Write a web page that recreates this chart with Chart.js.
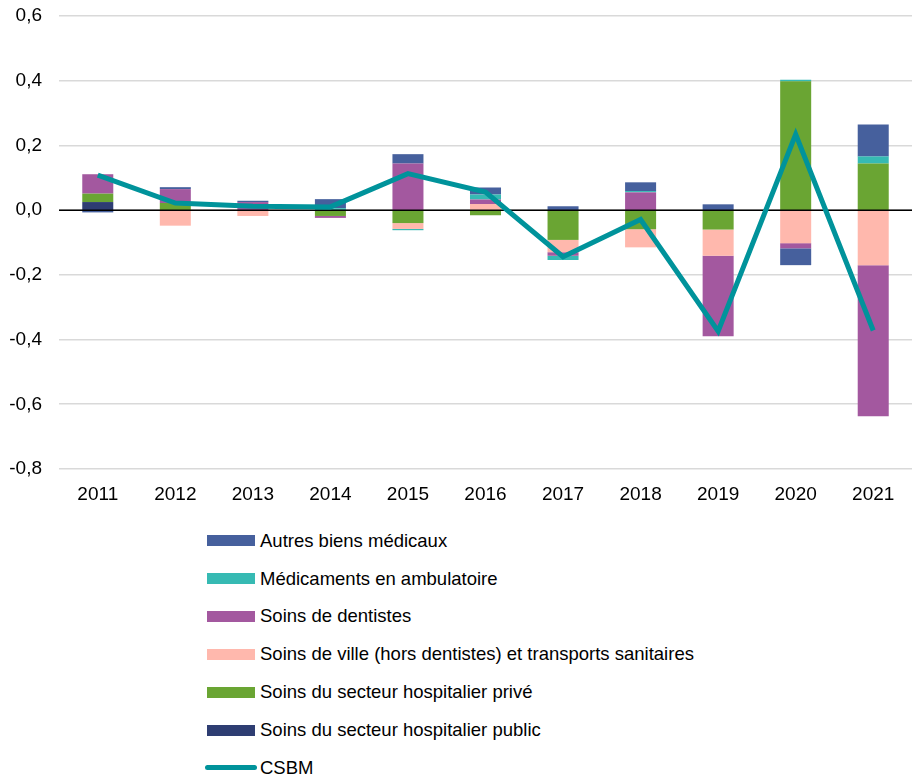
<!DOCTYPE html>
<html lang="fr">
<head>
<meta charset="UTF-8">
<title>Contributions à l'évolution de la CSBM</title>
<script src="https://cdn.jsdelivr.net/npm/chart.js"></script>
<style>
  body { margin: 0; background: #fff; font-family: 'Liberation Sans', Arial, sans-serif; }
  #wrap { position: relative; width: 912px; height: 782px; }
  #chart { position: absolute; left: 0; top: 0; }
  #legend { position: absolute; left: 207px; top: 521.7px; }
  .item { display: flex; align-items: center; height: 37.9px; font-size: 18.5px; color: #000; }
  .box { width: 48px; height: 11px; margin-right: 5px; }
  .ln { width: 52px; height: 5px; border-radius: 3px; margin-left: -2px; margin-right: 3px; }
</style>
</head>
<body>
<div id="wrap">
  <canvas id="chart" width="912" height="510"></canvas>
  <div id="legend"></div>
</div>

<script>
  // Années
  const years = ['2011', '2012', '2013', '2014', '2015', '2016', '2017', '2018', '2019', '2020', '2021'];

  // Contributions par poste (en points), dans l'ordre d'empilement
  const hospPublic   = [0.025, 0, 0, 0, 0, 0, 0, 0, 0, 0, 0];
  const hospPrive    = [0.026, 0.022, 0, -0.018, -0.040, -0.016, -0.092, -0.059, -0.060, 0.398, 0.144];
  const soinsVille   = [0, -0.048, -0.018, 0, -0.018, 0.019, -0.038, -0.056, -0.081, -0.102, -0.170];
  const dentistes    = [0.060, 0.043, 0.025, -0.006, 0.144, 0.014, -0.011, 0.055, -0.249, -0.016, -0.467];
  const medicaments  = [0, 0, 0, 0.006, -0.004, 0.015, -0.013, 0.004, 0, 0.005, 0.022];
  const autresBiens  = [-0.007, 0.006, 0.004, 0.028, 0.029, 0.022, 0.012, 0.027, 0.018, -0.052, 0.099];

  // Évolution totale de la CSBM
  const csbm = [0.108, 0.022, 0.012, 0.010, 0.113, 0.056, -0.144, -0.029, -0.374, 0.234, -0.372];

  const bars = [
    { label: 'Soins du secteur hospitalier public', data: hospPublic, color: '#2e3d72' },
    { label: 'Soins du secteur hospitalier privé', data: hospPrive, color: '#6aa533' },
    { label: 'Soins de ville (hors dentistes) et transports sanitaires', data: soinsVille, color: '#ffb8ad' },
    { label: 'Soins de dentistes', data: dentistes, color: '#a3589f' },
    { label: 'Médicaments en ambulatoire', data: medicaments, color: '#36bab3' },
    { label: 'Autres biens médicaux', data: autresBiens, color: '#46609d' }
  ];
  const lineColor = '#00939b';

  const datasets = bars.map(b => ({
    type: 'bar',
    label: b.label,
    data: b.data,
    backgroundColor: b.color,
    borderWidth: 0,
    order: 1,
    categoryPercentage: 0.8,
    barPercentage: 0.5
  }));
  datasets.push({
    type: 'line',
    label: 'CSBM',
    data: csbm,
    borderColor: lineColor,
    borderWidth: 5,
    pointRadius: 0,
    tension: 0,
    fill: false,
    order: 0
  });

  // Ligne du zéro tracée au-dessus des barres mais sous la courbe
  const zeroLine = {
    id: 'zeroLine',
    beforeDatasetDraw(chart, args) {
      if (args.meta.type !== 'line') return;
      const { ctx, chartArea, scales } = chart;
      const y = scales.y.getPixelForValue(0);
      ctx.save();
      ctx.strokeStyle = '#000';
      ctx.lineWidth = 1.5;
      ctx.beginPath();
      ctx.moveTo(chartArea.left, y);
      ctx.lineTo(chartArea.right, y);
      ctx.stroke();
      ctx.restore();
    }
  };

  Chart.defaults.font.family = "'Liberation Sans', Arial, sans-serif";
  Chart.defaults.font.size = 19;
  Chart.defaults.color = '#000';

  new Chart(document.getElementById('chart').getContext('2d'), {
    data: { labels: years, datasets: datasets },
    options: {
      responsive: false,
      animation: false,
      devicePixelRatio: 1,
      layout: { padding: { top: 16, right: 0, left: 0, bottom: 0 } },
      plugins: { legend: { display: false }, tooltip: { enabled: false } },
      scales: {
        x: {
          stacked: true,
          grid: { display: false, drawTicks: false },
          border: { display: false },
          ticks: { padding: 14 },
          afterFit: s => { s.height = 41; }
        },
        y: {
          stacked: true,
          min: -0.8,
          max: 0.6,
          grid: { color: '#d9d9d9', lineWidth: 1.6, drawTicks: false },
          border: { display: false },
          ticks: {
            stepSize: 0.2,
            padding: 17,
            callback: v => v.toFixed(1).replace('.', ',').replace('-0,0', '0,0')
          },
          afterFit: s => {
            s.width = 59;
            s.paddingTop = 0;
            s.paddingBottom = 0;
          }
        }
      }
    },
    plugins: [zeroLine]
  });

  // Légende : postes du haut vers le bas, puis la CSBM
  const legend = document.getElementById('legend');
  bars.slice().reverse().concat([{ label: 'CSBM', color: lineColor, line: true }]).forEach(b => {
    const row = document.createElement('div');
    row.className = 'item';
    const mark = document.createElement('span');
    mark.className = b.line ? 'ln' : 'box';
    mark.style.background = b.color;
    row.appendChild(mark);
    row.appendChild(document.createTextNode(b.label));
    legend.appendChild(row);
  });
</script>
</body>
</html>
